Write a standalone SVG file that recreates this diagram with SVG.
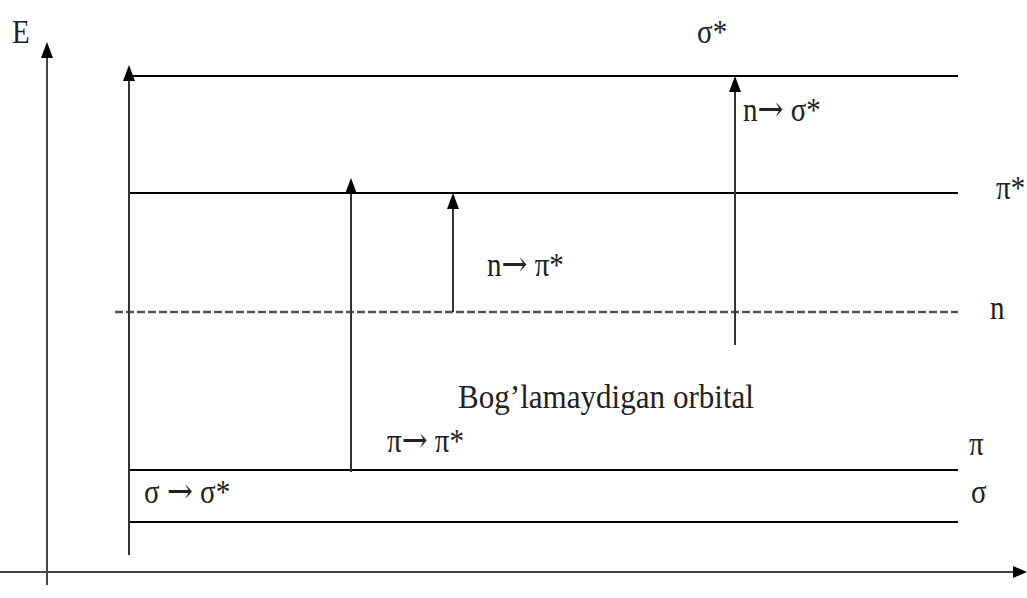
<svg xmlns="http://www.w3.org/2000/svg" width="1027" height="598" viewBox="0 0 1027 598">
<style>
.lvl{stroke:#000;stroke-width:2;fill:none}
.ax{stroke:#444;stroke-width:2;fill:none}
.tr{stroke:#333;stroke-width:2;fill:none}
.dash{stroke:#555;stroke-width:2.5;stroke-dasharray:8 3;fill:none}
.ah{fill:#000}
text{font-family:"Liberation Serif","Times New Roman",serif;font-size:29px;fill:#222}
.arr{font-family:"DejaVu Serif",serif;font-size:31px}
</style>
<rect width="1027" height="598" fill="#fff"/>
<g id="axes">
<line class="ax" x1="47" y1="585" x2="47" y2="56"/>
<polygon class="ah" points="47,42 41,58 53,58"/>
<line class="ax" x1="0" y1="572" x2="1015" y2="572"/>
<polygon class="ah" points="1027,572 1013,566 1013,578"/>
<text transform="translate(12,43) scale(1,1.15)">E</text>
</g>
<g id="level-sigma-star">
<line class="lvl" x1="130" y1="76" x2="958" y2="76"/>
<text transform="translate(697,43) scale(1,1.15)">σ*</text>
</g>
<g id="level-pi-star">
<line class="lvl" x1="130" y1="193" x2="958" y2="193"/>
<text transform="translate(996,199) scale(1,1.15)">π*</text>
</g>
<g id="level-n">
<line class="dash" x1="115" y1="312" x2="958" y2="312"/>
<text transform="translate(990,319) scale(1,1.15)">n</text>
<text transform="translate(458,408) scale(1,1.15)" textLength="296" lengthAdjust="spacingAndGlyphs">Bog’lamaydigan orbital</text>
</g>
<g id="level-pi">
<line class="lvl" x1="130" y1="470" x2="958" y2="470"/>
<text transform="translate(969,455) scale(1,1.15)">π</text>
</g>
<g id="level-sigma">
<line class="lvl" x1="130" y1="522" x2="958" y2="522"/>
<text transform="translate(971,503) scale(1,1.15)">σ</text>
</g>
<g id="connectors">
<line class="tr" x1="129" y1="555" x2="129" y2="78"/>
<polygon class="ah" points="129,65 123,81 135,81"/>
<line class="tr" x1="351" y1="472" x2="351" y2="190"/>
<polygon class="ah" points="351,178 345,194 357,194"/>
<line class="tr" x1="453" y1="312" x2="453" y2="205"/>
<polygon class="ah" points="453,193 447,209 459,209"/>
<line class="tr" x1="735" y1="345" x2="735" y2="88"/>
<polygon class="ah" points="735,76 729,92 741,92"/>
</g>
<g id="labels">
<text transform="translate(144,503) scale(1,1.15)">σ <tspan class="arr">→</tspan> σ*</text>
<text transform="translate(387,452) scale(1,1.15)">π<tspan class="arr">→</tspan> π*</text>
<text transform="translate(487,276) scale(1,1.15)">n<tspan class="arr">→</tspan> π*</text>
<text transform="translate(743,121) scale(1,1.15)">n<tspan class="arr">→</tspan> σ*</text>
</g>
</svg>
